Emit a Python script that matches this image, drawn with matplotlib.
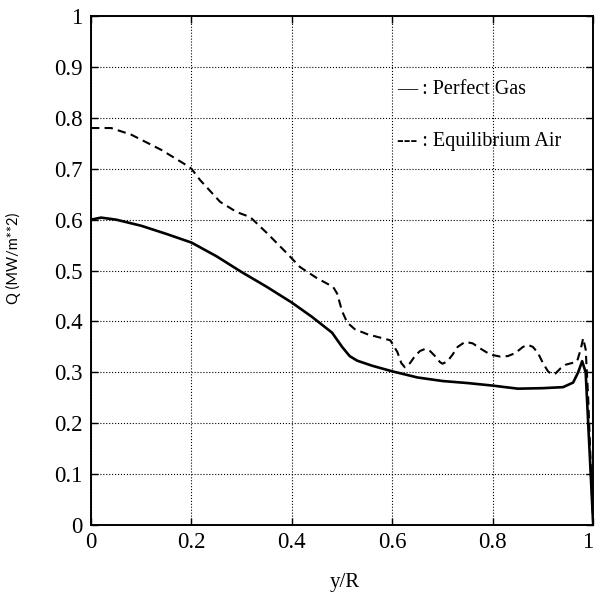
import matplotlib
matplotlib.use("Agg")
import matplotlib.pyplot as plt

plt.rcParams['font.family'] = ['Liberation Serif', 'DejaVu Serif']

# Perfect gas (solid)
x_pg = [0, 0.02, 0.05, 0.1, 0.15, 0.2, 0.25, 0.3, 0.35, 0.4, 0.44, 0.48, 0.50, 0.515,
        0.53, 0.56, 0.6, 0.65, 0.7, 0.75, 0.8, 0.85, 0.9, 0.94, 0.96, 0.97, 0.978,
        0.985, 0.99, 0.995, 1.0]
q_pg = [0.600, 0.604, 0.600, 0.588, 0.572, 0.555, 0.528, 0.497, 0.468, 0.437, 0.409,
        0.378, 0.350, 0.332, 0.323, 0.313, 0.302, 0.290, 0.283, 0.279, 0.274, 0.268,
        0.269, 0.271, 0.280, 0.300, 0.322, 0.300, 0.200, 0.100, 0.0]

# Equilibrium air (dashed)
x_eq = [0, 0.04, 0.08, 0.14, 0.19, 0.2, 0.217, 0.257, 0.29, 0.317, 0.351, 0.39, 0.416,
        0.45, 0.482, 0.49, 0.50, 0.51, 0.525, 0.55, 0.596, 0.61, 0.618, 0.625, 0.635,
        0.645, 0.655, 0.665, 0.675, 0.685, 0.695, 0.70, 0.71, 0.72, 0.73, 0.745, 0.76,
        0.775, 0.79, 0.80, 0.815, 0.83, 0.845, 0.86, 0.87, 0.88, 0.89, 0.90, 0.91,
        0.918, 0.925, 0.935, 0.945, 0.96, 0.968, 0.975, 0.98, 0.985, 0.99, 0.995, 1.0]
q_eq = [0.78, 0.78, 0.767, 0.737, 0.707, 0.70, 0.678, 0.635, 0.615, 0.605, 0.573, 0.534,
        0.507, 0.485, 0.468, 0.455, 0.42, 0.398, 0.385, 0.375, 0.363, 0.34, 0.318, 0.31,
        0.318, 0.332, 0.342, 0.346, 0.342, 0.332, 0.32, 0.317, 0.322, 0.335, 0.35, 0.36,
        0.357, 0.347, 0.338, 0.334, 0.331, 0.332, 0.338, 0.35, 0.354, 0.35, 0.338, 0.318,
        0.302, 0.296, 0.298, 0.308, 0.315, 0.319, 0.322, 0.345, 0.367, 0.345, 0.25,
        0.12, 0.0]

xticks = [0, 0.2, 0.4, 0.6, 0.8, 1]
xticklabels = ['0', '0.2', '0.4', '0.6', '0.8', '1']
yticks = [0, 0.1, 0.2, 0.3, 0.4, 0.5, 0.6, 0.7, 0.8, 0.9, 1]
yticklabels = ['0', '0.1', '0.2', '0.3', '0.4', '0.5', '0.6', '0.7', '0.8', '0.9', '1']

fig = plt.figure(figsize=(5.95, 5.94), dpi=100)
ax = fig.add_axes([0.153, 0.116, 0.844, 0.857])

ax.plot(x_pg, q_pg, color='black', lw=1.9, ls='-')
ax.plot(x_eq, q_eq, color='black', lw=1.5, ls=(0, (4, 2.5)))

ax.set_xlim(0, 1)
ax.set_ylim(0, 1)
ax.set_xticks(xticks)
ax.set_xticklabels(xticklabels)
ax.set_yticks(yticks)
ax.set_yticklabels(yticklabels)
ax.tick_params(direction='in', length=5, width=1, top=True, right=True,
               labelsize=16.5)
ax.tick_params(axis='y', pad=6)
ax.tick_params(axis='x', pad=5)
ax.xaxis.get_majorticklabels()[-1].set_ha('right')
ax.grid(True, ls=':', color='black', lw=0.8)
for s in ax.spines.values():
    s.set_linewidth(1.4)

ax.text(0.61, 0.855, '— : Perfect Gas', fontsize=14.5, va='center', ha='left')
ax.text(0.61, 0.753, '--- : Equilibrium Air', fontsize=14.5, va='center', ha='left')

fig.text(345 / 595, 1 - 582 / 594, 'y/R', fontsize=15, ha='center', va='center')
fig.text(13 / 595, 1 - 258 / 594, 'Q (MW/m**2)', fontsize=10.5, family='Lato',
         rotation=90, ha='center', va='center')

fig.savefig('out.png', dpi=100)
